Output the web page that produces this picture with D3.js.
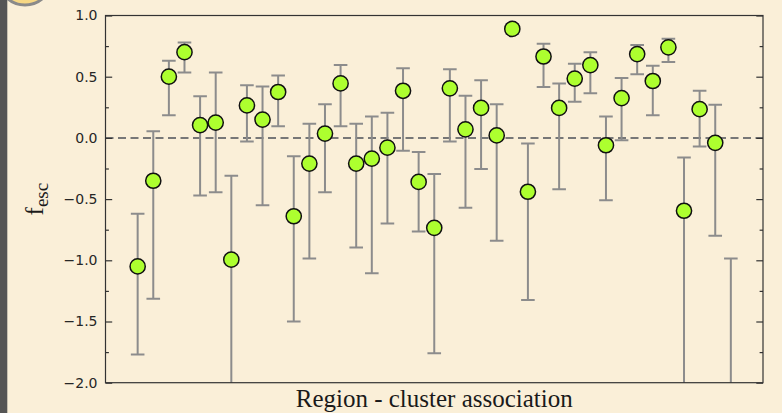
<!DOCTYPE html>
<html>
<head>
<meta charset="utf-8">
<script src="https://cdn.jsdelivr.net/npm/d3@7"></script>
<style>
  html, body { margin: 0; padding: 0; background: #faefd8; }
  svg { display: block; }
</style>
</head>
<body>
<div id="chart"></div>
<script>
// Escape fraction per region–cluster association, with asymmetric uncertainties
const fescValues = [
  -1.05, -0.35, 0.50, 0.70, 0.105, 0.125, -0.995, 0.265, 0.15, 0.375,
  -0.64, -0.21, 0.035, 0.445, -0.21, -0.17, -0.08, 0.385, -0.36, -0.735,
  0.405, 0.07, 0.245, 0.02, 0.89, -0.44, 0.665, 0.245, 0.485, 0.595,
  -0.06, 0.325, 0.685, 0.465, 0.74, -0.595, 0.235, -0.04, -2.5
];
const fescUpper = [
  -0.62, 0.055, 0.63, 0.78, 0.34, 0.535, -0.31, 0.43, 0.42, 0.51,
  -0.15, 0.115, 0.275, 0.595, 0.115, 0.175, 0.205, 0.57, -0.115, -0.295,
  0.56, 0.345, 0.47, 0.275, 0.93, -0.045, 0.77, 0.445, 0.605, 0.70,
  0.175, 0.49, 0.76, 0.59, 0.81, -0.16, 0.385, 0.27, -0.985
];
const fescLower = [
  -1.77, -1.315, 0.185, 0.535, -0.47, -0.445, -2.4, -0.03, -0.55, 0.095,
  -1.50, -0.985, -0.445, 0.095, -0.895, -1.105, -0.70, -0.105, -0.765, -1.76,
  -0.03, -0.57, -0.255, -0.84, 0.85, -1.325, 0.415, -0.42, 0.295, 0.365,
  -0.51, -0.02, 0.52, 0.185, 0.62, -2.4, -0.07, -0.80, -3.5
];
const yTicks = [1.0, 0.5, 0.0, -0.5, -1.0, -1.5, -2.0];
const yMinorTicks = [0.75, 0.25, -0.25, -0.75, -1.25, -1.75];

const W = 782, H = 413;
const margin = { left: 105.5, right: 19, top: 15.5, bottom: 30.3 };
const plotW = W - margin.left - margin.right;
const plotH = H - margin.top - margin.bottom;

const svg = d3.select("#chart").append("svg")
  .attr("width", W).attr("height", H);

svg.append("rect").attr("width", W).attr("height", H).attr("fill", "#faefd8");

// window-edge decorations
svg.append("rect").attr("x", 0).attr("y", 0).attr("width", 7.3).attr("height", H)
  .attr("fill", "#555555");
svg.append("circle").attr("cx", 25).attr("cy", -22).attr("r", 27)
  .attr("fill", "#f6d784").attr("stroke", "#8a8a8a").attr("stroke-width", 3);

const x = d3.scaleLinear().domain([-2.06, 40.06]).range([0, plotW]);
const y = d3.scaleLinear().domain([-2, 1]).range([plotH, 0]);

const g = svg.append("g").attr("transform", `translate(${margin.left},${margin.top})`);

g.append("clipPath").attr("id", "plot-clip")
  .append("rect").attr("width", plotW).attr("height", plotH);

const plot = g.append("g").attr("clip-path", "url(#plot-clip)");

// zero reference line
plot.append("line")
  .attr("x1", 0).attr("x2", plotW)
  .attr("y1", y(0)).attr("y2", y(0))
  .attr("stroke", "#777777").attr("stroke-width", 2)
  .attr("stroke-dasharray", "8,4.5");

// error bars
const capHalf = 6.8;
const eb = plot.append("g").attr("stroke", "#8c8c8c").attr("stroke-width", 2).attr("fill", "none");
fescValues.forEach((v, i) => {
  const cx = x(i);
  eb.append("line").attr("x1", cx).attr("x2", cx)
    .attr("y1", y(fescUpper[i])).attr("y2", y(fescLower[i]));
  eb.append("line").attr("x1", cx - capHalf).attr("x2", cx + capHalf)
    .attr("y1", y(fescUpper[i])).attr("y2", y(fescUpper[i]));
  eb.append("line").attr("x1", cx - capHalf).attr("x2", cx + capHalf)
    .attr("y1", y(fescLower[i])).attr("y2", y(fescLower[i]));
});

// markers
plot.append("g").selectAll("circle").data(fescValues).join("circle")
  .attr("cx", (d, i) => x(i))
  .attr("cy", d => y(d))
  .attr("r", 7.6)
  .attr("fill", "#adff2f")
  .attr("stroke", "#111111")
  .attr("stroke-width", 1.5);

// axes: ticks pointing inward on both vertical spines
const fmt = d3.format(".1f");
const left = g.append("g")
  .call(d3.axisLeft(y).tickValues(yTicks).tickFormat(fmt).tickSize(-6.7).tickPadding(8));
const leftMinor = g.append("g")
  .call(d3.axisLeft(y).tickValues(yMinorTicks).tickFormat("").tickSize(-3.4));
const right = g.append("g").attr("transform", `translate(${plotW},0)`)
  .call(d3.axisRight(y).tickValues(yTicks).tickFormat("").tickSize(-6.7));
const rightMinor = g.append("g").attr("transform", `translate(${plotW},0)`)
  .call(d3.axisRight(y).tickValues(yMinorTicks).tickFormat("").tickSize(-3.4));

[left, leftMinor, right, rightMinor].forEach(a => {
  a.select(".domain").remove();
  a.selectAll(".tick line").attr("stroke", "#333333").attr("stroke-width", 1.2);
});
left.selectAll(".tick text")
  .attr("font-family", "DejaVu Sans, sans-serif")
  .attr("font-size", 14)
  .attr("fill", "#262626");

// frame
g.append("rect").attr("width", plotW).attr("height", plotH)
  .attr("fill", "none").attr("stroke", "#333333").attr("stroke-width", 1.2);

// axis titles
svg.append("text")
  .attr("x", margin.left + plotW / 2).attr("y", 407)
  .attr("text-anchor", "middle")
  .attr("font-family", "Liberation Serif, Times New Roman, serif")
  .attr("font-size", 25)
  .attr("fill", "#1a1a1a")
  .text("Region - cluster association");

const yl = svg.append("text")
  .attr("transform", `translate(43,${margin.top + plotH / 2}) rotate(-90)`)
  .attr("text-anchor", "middle")
  .attr("font-family", "Liberation Serif, Times New Roman, serif")
  .attr("font-size", 25)
  .attr("fill", "#1a1a1a");
yl.append("tspan").text("f");
yl.append("tspan").attr("font-size", 19).attr("dy", 5).text("esc");
</script>
</body>
</html>
